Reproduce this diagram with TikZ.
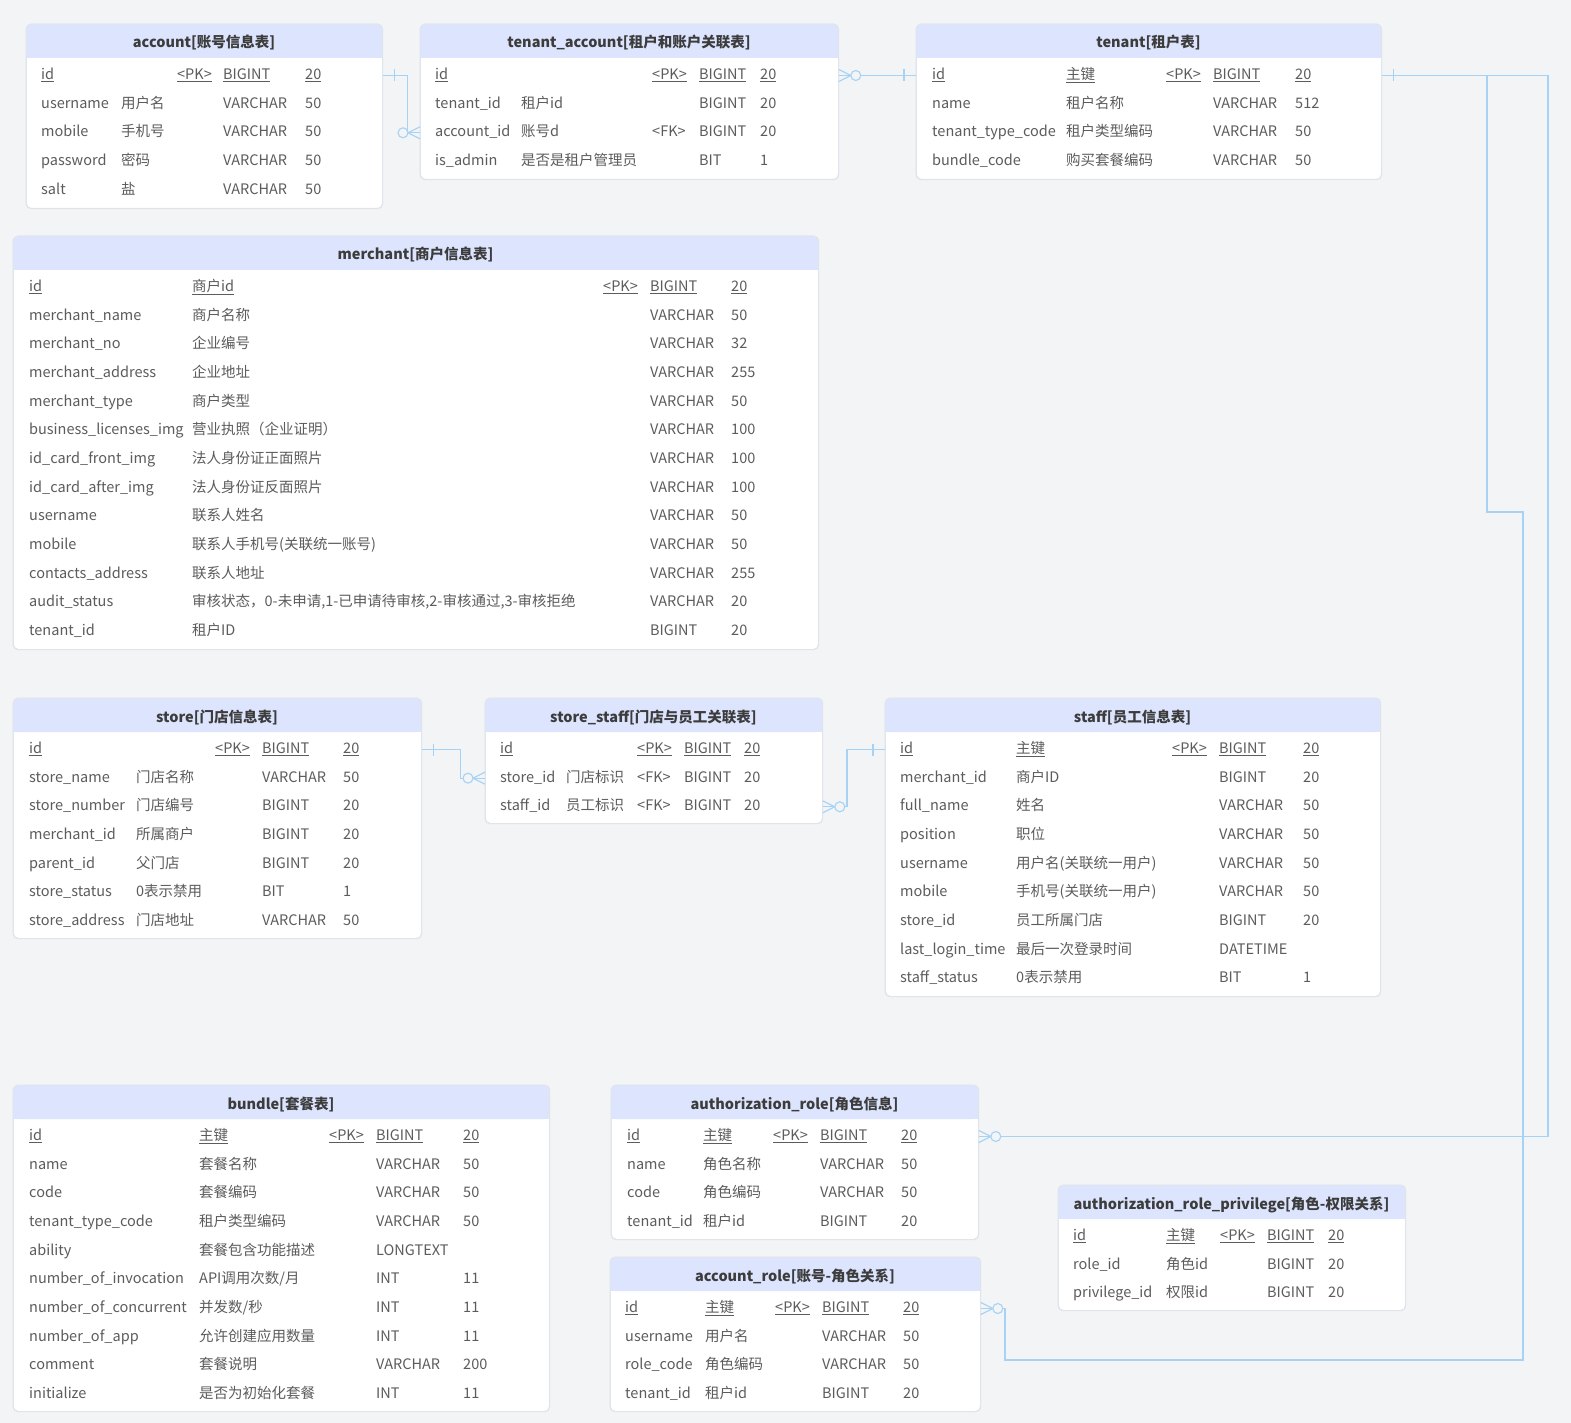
\documentclass[tikz,border=0pt]{standalone}
\usepackage{fontspec}
\setmainfont{Noto Sans CJK SC}

\definecolor{bggrey}{RGB}{242,244,245}
\definecolor{headfill}{RGB}{221,228,253}
\definecolor{tableline}{RGB}{224,228,235}
\definecolor{headtext}{RGB}{60,60,60}
\definecolor{celltext}{RGB}{92,92,92}
\definecolor{linkblue}{RGB}{166,210,245}

\tikzset{
  tablebox/.style={draw=tableline, fill=white, rounded corners=5pt, inner sep=0pt, line width=0.8pt},
  tablehead/.style={font=\fontsize{14.5pt}{17pt}\selectfont\bfseries, text=headtext, inner sep=0pt, text height=11pt, text depth=3pt},
  cell/.style={anchor=west, font=\fontsize{14.5pt}{17pt}\selectfont, text=celltext, inner sep=0pt, text height=11pt, text depth=3pt},
  relline/.style={draw=linkblue, line width=1.1pt},
  crowfoot/.pic={
    \draw[relline] (0,-6) -- (12,0) -- (0,6);
    \draw[relline] (0,0) -- (12,0);
    \draw[relline, fill=bggrey] (17,0) circle (5pt);
  },
  onebar/.pic={
    \draw[relline] (12,-6) -- (12,6);
  }
}

% column positions of the table that is drawn next
\newcommand{\setcols}[5]{\def\colname{#1}\def\colnote{#2}\def\colkey{#3}\def\coltype{#4}\def\collen{#5}}
\newcommand{\pkfmt}[2]{\ifnum#1=1 \underline{#2}\else #2\fi}

% name, left, top, right, bottom, title
\newcommand{\ertable}[6]{%
  \node[tablebox, anchor=north west, minimum width=#4-#2, minimum height=#5-#3] (#1) at (#2,#3) {};
  \fill[headfill, rounded corners=5pt] (#2,#3) rectangle (#4,#3+34);
  \fill[headfill] (#2,#3+17) rectangle (#4,#3+34);
  \draw[tableline, line width=0.8pt, rounded corners=5pt] (#1.north west) rectangle (#1.south east);
  \node[tablehead] (#1-title) at ({(#2+#4)/2},#3+20) {#6};
}

% table, row, table top, name, comment, key, type, length
\newcommand{\erow}[8]{%
  \pgfmathsetmacro\rowy{#3+51.5+(#2-1)*28.65}
  \node[cell] (#1-#2) at (\colname,\rowy) {\pkfmt{#2}{#4}};
  \node[cell] (#1-#2-note) at (\colnote,\rowy) {\pkfmt{#2}{#5}};
  \node[cell] (#1-#2-key) at (\colkey,\rowy) {\pkfmt{#2}{#6}};
  \node[cell] (#1-#2-type) at (\coltype,\rowy) {\pkfmt{#2}{#7}};
  \node[cell] (#1-#2-len) at (\collen,\rowy) {\pkfmt{#2}{#8}};
}

\begin{document}
\catcode`\_=12
\begin{tikzpicture}[x=1pt, y=-1pt]
    \useasboundingbox (0,0) rectangle (1571,1423);
    \fill[bggrey] (0,0) rectangle (1571,1423);

    % account
    \ertable{account}{26}{24}{382}{208}{account[账号信息表]}
    \setcols{41}{121}{177}{223}{305}
    \foreach \fname/\fnote/\fkey/\ftype/\flen [count=\i] in {
        id/{}/<PK>/BIGINT/20,
        username/用户名/{}/VARCHAR/50,
        mobile/手机号/{}/VARCHAR/50,
        password/密码/{}/VARCHAR/50,
        salt/盐/{}/VARCHAR/50}
        {\erow{account}{\i}{24}{\fname}{\fnote}{\fkey}{\ftype}{\flen}}

    % tenant_account
    \ertable{tenant_account}{420}{24}{838}{179}{tenant_account[租户和账户关联表]}
    \setcols{435}{521}{652}{699}{760}
    \foreach \fname/\fnote/\fkey/\ftype/\flen [count=\i] in {
        id/{}/<PK>/BIGINT/20,
        tenant_id/租户id/{}/BIGINT/20,
        account_id/账号d/<FK>/BIGINT/20,
        is_admin/是否是租户管理员/{}/BIT/1}
        {\erow{tenant_account}{\i}{24}{\fname}{\fnote}{\fkey}{\ftype}{\flen}}

    % tenant
    \ertable{tenant}{916}{24}{1381}{179}{tenant[租户表]}
    \setcols{932}{1066}{1166}{1213}{1295}
    \foreach \fname/\fnote/\fkey/\ftype/\flen [count=\i] in {
        id/主键/<PK>/BIGINT/20,
        name/租户名称/{}/VARCHAR/512,
        tenant_type_code/租户类型编码/{}/VARCHAR/50,
        bundle_code/购买套餐编码/{}/VARCHAR/50}
        {\erow{tenant}{\i}{24}{\fname}{\fnote}{\fkey}{\ftype}{\flen}}

    % merchant
    \ertable{merchant}{13}{236}{818}{649}{merchant[商户信息表]}
    \setcols{29}{192}{603}{650}{731}
    \foreach \fname/\fnote/\fkey/\ftype/\flen [count=\i] in {
        id/商户id/<PK>/BIGINT/20,
        merchant_name/商户名称/{}/VARCHAR/50,
        merchant_no/企业编号/{}/VARCHAR/32,
        merchant_address/企业地址/{}/VARCHAR/255,
        merchant_type/商户类型/{}/VARCHAR/50,
        business_licenses_img/营业执照（企业证明）/{}/VARCHAR/100,
        id_card_front_img/法人身份证正面照片/{}/VARCHAR/100,
        id_card_after_img/法人身份证反面照片/{}/VARCHAR/100,
        username/联系人姓名/{}/VARCHAR/50,
        mobile/联系人手机号(关联统一账号)/{}/VARCHAR/50,
        contacts_address/联系人地址/{}/VARCHAR/255,
        audit_status/{审核状态，0-未申请,1-已申请待审核,2-审核通过,3-审核拒绝}/{}/VARCHAR/20,
        tenant_id/租户ID/{}/BIGINT/20}
        {\erow{merchant}{\i}{236}{\fname}{\fnote}{\fkey}{\ftype}{\flen}}

    % store
    \ertable{store}{13}{698}{421}{938}{store[门店信息表]}
    \setcols{29}{136}{215}{262}{343}
    \foreach \fname/\fnote/\fkey/\ftype/\flen [count=\i] in {
        id/{}/<PK>/BIGINT/20,
        store_name/门店名称/{}/VARCHAR/50,
        store_number/门店编号/{}/BIGINT/20,
        merchant_id/所属商户/{}/BIGINT/20,
        parent_id/父门店/{}/BIGINT/20,
        store_status/0表示禁用/{}/BIT/1,
        store_address/门店地址/{}/VARCHAR/50}
        {\erow{store}{\i}{698}{\fname}{\fnote}{\fkey}{\ftype}{\flen}}

    % store_staff
    \ertable{store_staff}{485}{698}{822}{823}{store_staff[门店与员工关联表]}
    \setcols{500}{566}{637}{684}{744}
    \foreach \fname/\fnote/\fkey/\ftype/\flen [count=\i] in {
        id/{}/<PK>/BIGINT/20,
        store_id/门店标识/<FK>/BIGINT/20,
        staff_id/员工标识/<FK>/BIGINT/20}
        {\erow{store_staff}{\i}{698}{\fname}{\fnote}{\fkey}{\ftype}{\flen}}

    % staff
    \ertable{staff}{885}{698}{1380}{996}{staff[员工信息表]}
    \setcols{900}{1016}{1172}{1219}{1303}
    \foreach \fname/\fnote/\fkey/\ftype/\flen [count=\i] in {
        id/主键/<PK>/BIGINT/20,
        merchant_id/商户ID/{}/BIGINT/20,
        full_name/姓名/{}/VARCHAR/50,
        position/职位/{}/VARCHAR/50,
        username/用户名(关联统一用户)/{}/VARCHAR/50,
        mobile/手机号(关联统一用户)/{}/VARCHAR/50,
        store_id/员工所属门店/{}/BIGINT/20,
        last_login_time/最后一次登录时间/{}/DATETIME/{},
        staff_status/0表示禁用/{}/BIT/1}
        {\erow{staff}{\i}{698}{\fname}{\fnote}{\fkey}{\ftype}{\flen}}

    % bundle
    \ertable{bundle}{13}{1085}{549}{1411}{bundle[套餐表]}
    \setcols{29}{199}{329}{376}{463}
    \foreach \fname/\fnote/\fkey/\ftype/\flen [count=\i] in {
        id/主键/<PK>/BIGINT/20,
        name/套餐名称/{}/VARCHAR/50,
        code/套餐编码/{}/VARCHAR/50,
        tenant_type_code/租户类型编码/{}/VARCHAR/50,
        ability/套餐包含功能描述/{}/LONGTEXT/{},
        number_of_invocation/{API调用次数/月}/{}/INT/11,
        number_of_concurrent/{并发数/秒}/{}/INT/11,
        number_of_app/允许创建应用数量/{}/INT/11,
        comment/套餐说明/{}/VARCHAR/200,
        initialize/是否为初始化套餐/{}/INT/11}
        {\erow{bundle}{\i}{1085}{\fname}{\fnote}{\fkey}{\ftype}{\flen}}

    % authorization_role
    \ertable{authorization_role}{611}{1085}{978}{1239}{authorization_role[角色信息]}
    \setcols{627}{703}{773}{820}{901}
    \foreach \fname/\fnote/\fkey/\ftype/\flen [count=\i] in {
        id/主键/<PK>/BIGINT/20,
        name/角色名称/{}/VARCHAR/50,
        code/角色编码/{}/VARCHAR/50,
        tenant_id/租户id/{}/BIGINT/20}
        {\erow{authorization_role}{\i}{1085}{\fname}{\fnote}{\fkey}{\ftype}{\flen}}

    % account_role
    \ertable{account_role}{610}{1257}{980}{1411}{account_role[账号-角色关系]}
    \setcols{625}{705}{775}{822}{903}
    \foreach \fname/\fnote/\fkey/\ftype/\flen [count=\i] in {
        id/主键/<PK>/BIGINT/20,
        username/用户名/{}/VARCHAR/50,
        role_code/角色编码/{}/VARCHAR/50,
        tenant_id/租户id/{}/BIGINT/20}
        {\erow{account_role}{\i}{1257}{\fname}{\fnote}{\fkey}{\ftype}{\flen}}

    % authorization_role_privilege
    \ertable{role_privilege}{1058}{1185}{1405}{1310}{authorization_role_privilege[角色-权限关系]}
    \setcols{1073}{1166}{1220}{1267}{1328}
    \foreach \fname/\fnote/\fkey/\ftype/\flen [count=\i] in {
        id/主键/<PK>/BIGINT/20,
        role_id/角色id/{}/BIGINT/20,
        privilege_id/权限id/{}/BIGINT/20}
        {\erow{role_privilege}{\i}{1185}{\fname}{\fnote}{\fkey}{\ftype}{\flen}}

    % rails of the long connectors
    \coordinate (rightrail) at (1548,0);
    \coordinate (forkrail) at (1487,512);
    \coordinate (innerrail) at (1523,1360);
    \coordinate (roleturn) at (1005,0);

    % connectors
    \draw[relline] (account.east |- account-1) -- ++(25,0) |- (tenant_account.west |- tenant_account-3);
    \draw[relline] (tenant_account.east |- tenant_account-1) -- (tenant.west |- tenant-1);
    \draw[relline] (tenant.east |- tenant-1) -| (rightrail |- authorization_role-1) -- (authorization_role.east |- authorization_role-1);
    \draw[relline] (tenant.east |- tenant-1) -| (forkrail) -| (innerrail) -| (roleturn |- account_role-1) -- (account_role.east |- account_role-1);
    \draw[relline] (store.east |- store-1) -- ++(39,0) |- (store_staff.west |- store_staff-2);
    \draw[relline] (staff.west |- staff-1) -- ++(-38,0) |- (store_staff.east |- store_staff-3);

    % ends of the connectors
    \pic at (account.east |- account-1) {onebar};
    \pic[xscale=-1] at (tenant_account.west |- tenant_account-3) {crowfoot};
    \pic at (tenant_account.east |- tenant_account-1) {crowfoot};
    \pic[xscale=-1] at (tenant.west |- tenant-1) {onebar};
    \pic at (tenant.east |- tenant-1) {onebar};
    \pic at (authorization_role.east |- authorization_role-1) {crowfoot};
    \pic at (account_role.east |- account_role-1) {crowfoot};
    \pic at (store.east |- store-1) {onebar};
    \pic[xscale=-1] at (store_staff.west |- store_staff-2) {crowfoot};
    \pic[xscale=-1] at (staff.west |- staff-1) {onebar};
    \pic at (store_staff.east |- store_staff-3) {crowfoot};
\end{tikzpicture}
\end{document}
